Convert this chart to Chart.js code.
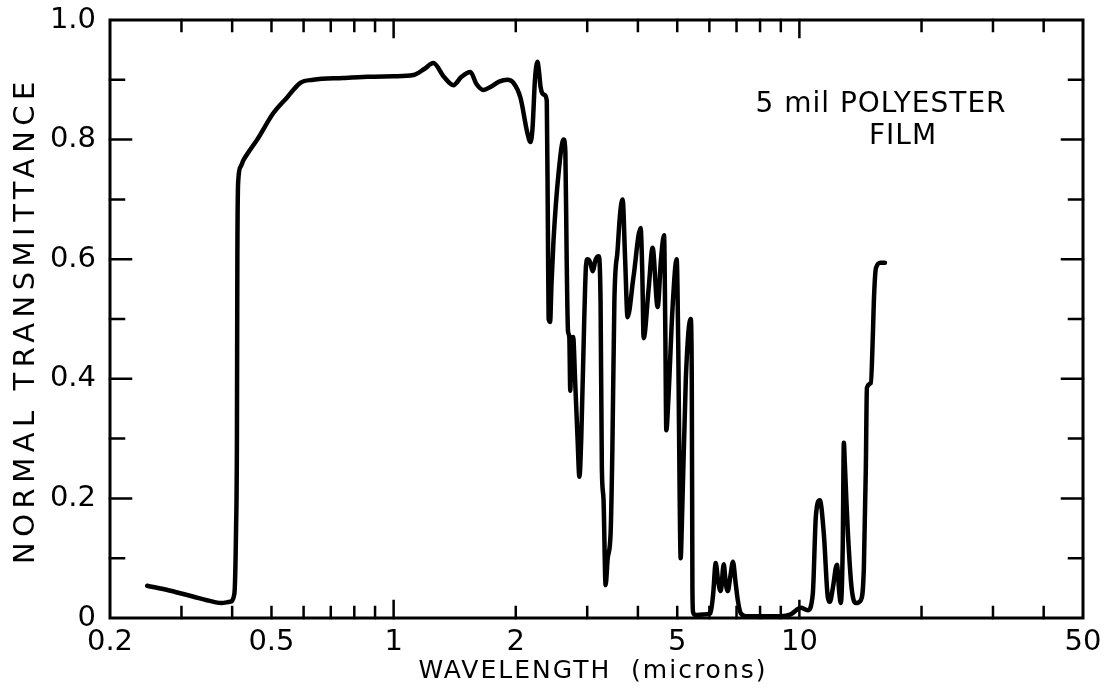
<!DOCTYPE html>
<html>
<head>
<meta charset="utf-8">
<script src="https://cdn.jsdelivr.net/npm/chart.js@4/dist/chart.umd.min.js"></script>
<style>
  html, body { margin: 0; padding: 0; background: #fff; }
  #wrap { width: 1110px; height: 692px; position: relative; }
</style>
</head>
<body>
<div id="wrap"><canvas id="spectrum"></canvas></div>
<script>
// wavelength (microns) and normal transmittance
const wavelength = [
  0.247, 0.28, 0.32, 0.35, 0.376, 0.395, 0.405, 0.409, 0.411, 0.412, 0.414, 0.42,
  0.426, 0.44, 0.461, 0.505, 0.547, 0.589, 0.634, 0.75, 0.861, 1.0, 1.119,
  1.19, 1.253, 1.33, 1.404, 1.47, 1.546, 1.6, 1.665, 1.732, 1.82, 1.908, 1.974,
  2.054, 2.138, 2.174, 2.20, 2.23, 2.262, 2.285, 2.302, 2.35, 2.385,
  2.40, 2.41, 2.43, 2.45, 2.478, 2.55, 2.624, 2.65, 2.67, 2.69, 2.71, 2.725,
  2.745, 2.77, 2.80, 2.84, 2.87, 2.90, 2.95, 2.98, 3.006, 3.05, 3.092, 3.15,
  3.20, 3.236, 3.26, 3.29, 3.33, 3.37, 3.426, 3.46, 3.50, 3.564, 3.62, 3.668,
  3.72, 3.772, 3.9, 4.062, 4.10, 4.132, 4.25, 4.348, 4.474, 4.56, 4.64, 4.67,
  4.70, 4.75, 4.87, 4.984, 5.03, 5.07, 5.098, 5.13, 5.25, 5.396, 5.43, 5.45,
  5.47, 5.55, 5.8, 6.04, 6.13, 6.22, 6.31, 6.40, 6.51, 6.58, 6.66, 6.76, 6.86,
  6.96, 7.05, 7.17, 7.4, 8.0, 9.0, 9.52, 10.08, 10.49, 10.79, 10.98, 11.23,
  11.49, 11.75, 11.89, 12.09, 12.37, 12.55, 12.65, 12.79, 12.87, 12.94, 13.05,
  13.17, 13.45, 13.78, 14.18, 14.42, 14.58, 14.67, 15.0, 15.18, 15.26, 15.44,
  15.85, 16.25
];
const transmittance = [
  0.054, 0.046, 0.036, 0.029, 0.025, 0.027, 0.04, 0.15, 0.30, 0.60, 0.73, 0.755,
  0.765, 0.78, 0.80, 0.844, 0.871, 0.895, 0.90, 0.903, 0.905, 0.906, 0.908,
  0.918, 0.928, 0.905, 0.891, 0.905, 0.913, 0.893, 0.883, 0.888, 0.897, 0.90, 0.895,
  0.87, 0.81, 0.796, 0.82, 0.90, 0.93, 0.91, 0.888, 0.875, 0.865,
  0.65, 0.50, 0.495, 0.56, 0.632, 0.744, 0.80, 0.78, 0.60, 0.48, 0.47, 0.38,
  0.46, 0.47, 0.40, 0.30, 0.236, 0.30, 0.50, 0.59, 0.60, 0.595, 0.58, 0.60,
  0.605, 0.53, 0.25, 0.20, 0.055, 0.10, 0.142, 0.28, 0.53, 0.615, 0.68, 0.70,
  0.60, 0.503, 0.57, 0.652, 0.58, 0.468, 0.55, 0.619, 0.52, 0.60, 0.64, 0.50,
  0.314, 0.36, 0.52, 0.60, 0.45, 0.20, 0.10, 0.15, 0.40, 0.50, 0.40, 0.05,
  0.01, 0.005, 0.006, 0.008, 0.04, 0.092, 0.06, 0.045, 0.09, 0.06, 0.045, 0.07, 0.094,
  0.06, 0.03, 0.008, 0.003, 0.003, 0.003, 0.006, 0.017, 0.013, 0.04, 0.17, 0.197,
  0.14, 0.035, 0.027, 0.05, 0.089, 0.04, 0.025, 0.12, 0.293, 0.26, 0.20,
  0.142, 0.05, 0.025, 0.03, 0.085, 0.25, 0.385, 0.393, 0.477, 0.53, 0.585,
  0.594, 0.594
];

// axis ticks
const xLabelTicks = [0.2, 0.5, 1, 2, 5, 10, 50];
const xMinorTicks = [0.3, 0.4, 0.5, 0.6, 0.7, 0.8, 0.9, 2, 3, 4, 5, 6, 7, 8, 9, 20, 30, 40];
const xMajorTicks = [1, 10];
const yLabelTicks = [0, 0.2, 0.4, 0.6, 0.8, 1.0];
const yMinorTicks = [0.1, 0.3, 0.5, 0.7, 0.9];
const yMajorTicks = [0.2, 0.4, 0.6, 0.8];

const FONT = '"DejaVu Sans", "Liberation Sans", sans-serif';

//frame, inward tick marks and the free text
const framePlugin = {
  id: 'frame',
  afterDraw(chart) {
    const ctx = chart.ctx;
    const a = chart.chartArea;
    const xs = chart.scales.x, ys = chart.scales.y;
    ctx.save();
    ctx.strokeStyle = '#000';
    ctx.lineCap = 'square';
    ctx.lineWidth = 3;
    ctx.strokeRect(a.left, a.top, a.right - a.left, a.bottom - a.top);

    ctx.lineWidth = 2.5;
    const vtick = (v, len) => {
      const px = xs.getPixelForValue(v);
      ctx.beginPath();
      ctx.moveTo(px, a.bottom); ctx.lineTo(px, a.bottom - len);
      ctx.moveTo(px, a.top); ctx.lineTo(px, a.top + len);
      ctx.stroke();
    };
    const htick = (v, len) => {
      const py = ys.getPixelForValue(v);
      ctx.beginPath();
      ctx.moveTo(a.left, py); ctx.lineTo(a.left + len, py);
      ctx.moveTo(a.right, py); ctx.lineTo(a.right - len, py);
      ctx.stroke();
    };
    xMinorTicks.forEach(v => vtick(v, 11));
    xMajorTicks.forEach(v => vtick(v, 17));
    yMinorTicks.forEach(v => htick(v, 14));
    yMajorTicks.forEach(v => htick(v, 21));

    ctx.fillStyle = '#000';
    ctx.textAlign = 'center';
    ctx.textBaseline = 'alphabetic';
    ctx.letterSpacing = '2px';
    ctx.font = '25px ' + FONT;
    ctx.fillText('WAVELENGTH  (microns)', 593, 678);

    ctx.save();
    ctx.translate(34, 320);
    ctx.rotate(-Math.PI / 2);
    ctx.letterSpacing = '5.5px';
    ctx.font = '29px ' + FONT;
    ctx.fillText('NORMAL TRANSMITTANCE', 0, 0);
    ctx.restore();

    ctx.letterSpacing = '1px';
    ctx.font = '28px ' + FONT;
    ctx.fillText('5 mil POLYESTER', 881, 112);
    ctx.fillText('FILM', 903, 144);
    ctx.restore();
  }
};

let spectrumChart = new Chart(document.getElementById('spectrum'), {
  type: 'line',
  data: {
    datasets: [{
      label: 'Normal transmittance',
      data: wavelength.map((w, i) => ({ x: w, y: transmittance[i] })),
      borderColor: '#000',
      borderWidth: 4.5,
      borderCapStyle: 'round',
      borderJoinStyle: 'round',
      pointRadius: 0,
      cubicInterpolationMode: 'monotone',
      fill: false
    }]
  },
  options: {
    responsive: true,
    maintainAspectRatio: false,
    animation: false,
    layout: { padding: { left: 0, right: 27, top: 20, bottom: 0 } },
    plugins: {
      legend: { display: false },
      tooltip: { enabled: false }
    },
    scales: {
      x: {
        type: 'logarithmic',
        min: 0.2,
        max: 50,
        grid: { display: false, drawTicks: false },
        border: { display: false },
        afterBuildTicks: (scale) => {
          scale.ticks = xLabelTicks.map(v => ({ value: v }));
        },
        afterFit: (scale) => {
          scale.height = 74;
          scale.paddingLeft = 0;
          scale.paddingRight = 0;
        },
        ticks: {
          autoSkip: false,
          maxRotation: 0,
          padding: 7,
          color: '#000',
          font: { family: FONT, size: 29 },
          callback: (v) => String(v)
        }
      },
      y: {
        type: 'linear',
        min: 0,
        max: 1,
        grid: { display: false, drawTicks: false },
        border: { display: false },
        afterBuildTicks: (scale) => {
          scale.ticks = yLabelTicks.map(v => ({ value: v }));
        },
        afterFit: (scale) => {
          scale.width = 110;
          scale.paddingTop = 0;
          scale.paddingBottom = 0;
        },
        ticks: {
          padding: 14,
          color: '#000',
          font: { family: FONT, size: 29 },
          callback: (v) => v === 0 ? '0' : v.toFixed(1)
        }
      }
    }
  },
  plugins: [framePlugin]
});
</script>
</body>
</html>
